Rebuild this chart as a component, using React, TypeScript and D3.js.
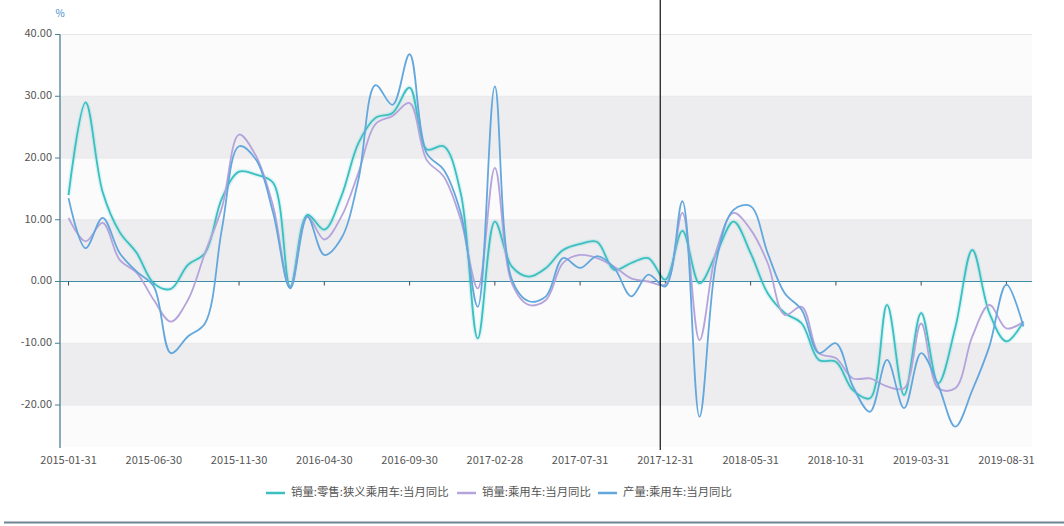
import React from "react";
import * as d3 from "d3";

// month-end categories, 2015-01 .. 2019-09
const months = [
  "2015-01-31", "2015-02-28", "2015-03-31", "2015-04-30", "2015-05-31", "2015-06-30",
  "2015-07-31", "2015-08-31", "2015-09-30", "2015-10-31", "2015-11-30", "2015-12-31",
  "2016-01-31", "2016-02-29", "2016-03-31", "2016-04-30", "2016-05-31", "2016-06-30",
  "2016-07-31", "2016-08-31", "2016-09-30", "2016-10-31", "2016-11-30", "2016-12-31",
  "2017-01-31", "2017-02-28", "2017-03-31", "2017-04-30", "2017-05-31", "2017-06-30",
  "2017-07-31", "2017-08-31", "2017-09-30", "2017-10-31", "2017-11-30", "2017-12-31",
  "2018-01-31", "2018-02-28", "2018-03-31", "2018-04-30", "2018-05-31", "2018-06-30",
  "2018-07-31", "2018-08-31", "2018-09-30", "2018-10-31", "2018-11-30", "2018-12-31",
  "2019-01-31", "2019-02-28", "2019-03-31", "2019-04-30", "2019-05-31", "2019-06-30",
  "2019-07-31", "2019-08-31", "2019-09-30",
];

const xTickLabels = [
  "2015-01-31", "2015-06-30", "2015-11-30", "2016-04-30", "2016-09-30", "2017-02-28",
  "2017-07-31", "2017-12-31", "2018-05-31", "2018-10-31", "2019-03-31", "2019-08-31",
];

const yTicks = [-20, -10, 0, 10, 20, 30, 40];
const yMin = -26.8;
const yMax = 40;

// 销量:零售:狭义乘用车:当月同比
const retailYoY = [
  14.0, 29.0, 14.5, 8.0, 4.6, -0.3, -1.2, 2.7, 4.6, 13.5, 17.8, 17.3,
  16.0, -0.8, 10.8, 8.4, 13.8, 22.4, 26.5, 27.3, 31.4, 21.4, 21.9, 14.3,
  -9.2, 9.7, 2.4, 0.8, 2.2, 5.1, 6.1, 6.4, 1.9, 3.0, 3.8, 0.3,
  8.2, -0.3, 4.6, 9.7, 4.6, -1.9, -5.1, -6.8, -12.7, -13.0, -17.6, -18.9,
  -3.8, -18.4, -5.1, -16.5, -7.5, 5.1, -5.1, -9.7, -6.5,
];

// 销量:乘用车:当月同比
const salesYoY = [
  10.3, 6.5, 9.5, 3.5, 1.4, -3.0, -6.5, -3.0, 4.6, 12.0, 23.8, 20.3,
  12.2, -1.0, 10.5, 6.8, 10.5, 17.6, 25.5, 26.8, 28.9, 19.7, 17.0, 10.0,
  -1.1, 18.4, -0.3, -3.8, -3.0, 3.0, 4.3, 3.8, 2.4, 0.5, 0.0, -0.5,
  11.1, -9.5, 5.1, 11.1, 8.4, 3.0, -5.4, -4.1, -11.6, -12.4, -15.7, -15.7,
  -17.0, -17.3, -6.8, -17.3, -17.3, -8.9, -3.8, -7.6, -6.5,
];

// 产量:乘用车:当月同比
const outputYoY = [
  13.5, 5.4, 10.3, 4.6, 1.6, -0.8, -11.6, -8.9, -6.8, 8.6, 21.9, 19.7,
  11.1, -1.1, 10.5, 4.3, 7.0, 16.5, 31.8, 28.6, 36.8, 20.8, 18.1, 11.1,
  -4.1, 31.6, 0.3, -3.2, -2.4, 3.8, 2.2, 4.1, 2.2, -2.4, 1.1, -0.8,
  13.0, -21.9, 3.5, 11.6, 12.2, 4.6, -1.9, -4.6, -11.6, -10.0, -17.0, -21.1,
  -12.7, -20.5, -11.6, -16.8, -23.5, -17.6, -10.5, -0.5, -7.3,
];

const seriesNames = ["销量:零售:狭义乘用车:当月同比", "销量:乘用车:当月同比", "产量:乘用车:当月同比"];
const seriesColors = ["#3bbfc1", "#b5a4db", "#63a7dd"];
const seriesData = [retailYoY, salesYoY, outputYoY];

// hover cursor position, in month index units
const cursorIndex = 34.7;

const FONT = "'Noto Sans CJK SC', 'Noto Sans', sans-serif";

const App: React.FC = () => {
  const width = 1064;
  const height = 526;
  const left = 60;
  const right = 1032;
  const top = 34.5;
  const bottom = 447;

  const x = d3
    .scalePoint<number>()
    .domain(d3.range(months.length))
    .range([left, right])
    .padding(0.5);
  const xIdx = d3
    .scaleLinear()
    .domain([0, months.length - 1])
    .range([x(0)!, x(months.length - 1)!]);
  const y = d3.scaleLinear().domain([yMin, yMax]).range([bottom, top]);

  const line = d3
    .line<number>()
    .x((_, i) => x(i)!)
    .y((d) => y(d))
    .curve(d3.curveCatmullRom.alpha(0.5));

  const bandEdges = [yMin, ...yTicks];
  const legendX = [266, 457, 598];

  return (
    <svg
      width={width}
      height={height}
      style={{ position: "absolute", left: 0, top: 0, background: "#fff" }}
      fontFamily={FONT}
    >
      {/* split areas */}
      {bandEdges.slice(0, -1).map((v, i) => (
        <rect
          key={`band-${i}`}
          x={left}
          width={right - left}
          y={y(bandEdges[i + 1])}
          height={y(v) - y(bandEdges[i + 1])}
          fill={i % 2 === 0 ? "#fbfbfc" : "#ededef"}
        />
      ))}
      {yTicks.map((t) => (
        <line key={`grid-${t}`} x1={left} x2={right} y1={y(t)} y2={y(t)} stroke="#e8e8ea" />
      ))}

      {/* y axis */}
      <line x1={left} x2={left} y1={top} y2={bottom + 1} stroke="#4a7f92" strokeWidth={1.3} />
      {yTicks.map((t) => (
        <g key={`yt-${t}`}>
          <line x1={left - 5} x2={left} y1={y(t)} y2={y(t)} stroke="#4a7f92" />
          <text
            x={left - 8}
            y={y(t)}
            textAnchor="end"
            dominantBaseline="middle"
            fontSize={11}
            fill="#555"
          >
            {t.toFixed(2)}
          </text>
        </g>
      ))}
      <text x={left} y={17} textAnchor="middle" fontSize={10} fill="#3d8fcc">
        %
      </text>

      {/* x axis on zero */}
      <line x1={left} x2={right} y1={y(0)} y2={y(0)} stroke="#3f8ca6" strokeWidth={1.2} />
      {xTickLabels.map((lab) => {
        const i = months.indexOf(lab);
        return (
          <g key={lab}>
            <line x1={x(i)!} x2={x(i)!} y1={y(0)} y2={y(0) + 4} stroke="#445" />
            <text x={x(i)!} y={464} textAnchor="middle" fontSize={11} fill="#555">
              {lab}
            </text>
          </g>
        );
      })}

      {/* series */}
      <path d={line(retailYoY) || ""} fill="none" stroke="#2ec7c9" strokeOpacity={0.15} strokeWidth={4.5} />
      {seriesData.map((s, k) => (
        <path
          key={seriesNames[k]}
          d={line(s) || ""}
          fill="none"
          stroke={seriesColors[k]}
          strokeWidth={1.8}
          strokeLinejoin="round"
        />
      ))}

      {/* cursor */}
      <line x1={xIdx(cursorIndex)} x2={xIdx(cursorIndex)} y1={0} y2={450} stroke="#111" strokeWidth={1.2} />

      {/* legend */}
      {seriesNames.map((name, k) => (
        <g key={`lg-${k}`} transform={`translate(${legendX[k]},493)`}>
          <line x1={0} x2={19} y1={0} y2={0} stroke={seriesColors[k]} strokeWidth={2.5} />
          <text x={25} y={0} dominantBaseline="middle" fontSize={11.4} fill="#555">
            {name}
          </text>
        </g>
      ))}

      {/* bottom rule */}
      <rect x={4} y={521.5} width={width - 4} height={2} fill="#6f8594" />
    </svg>
  );
};

export default App;
